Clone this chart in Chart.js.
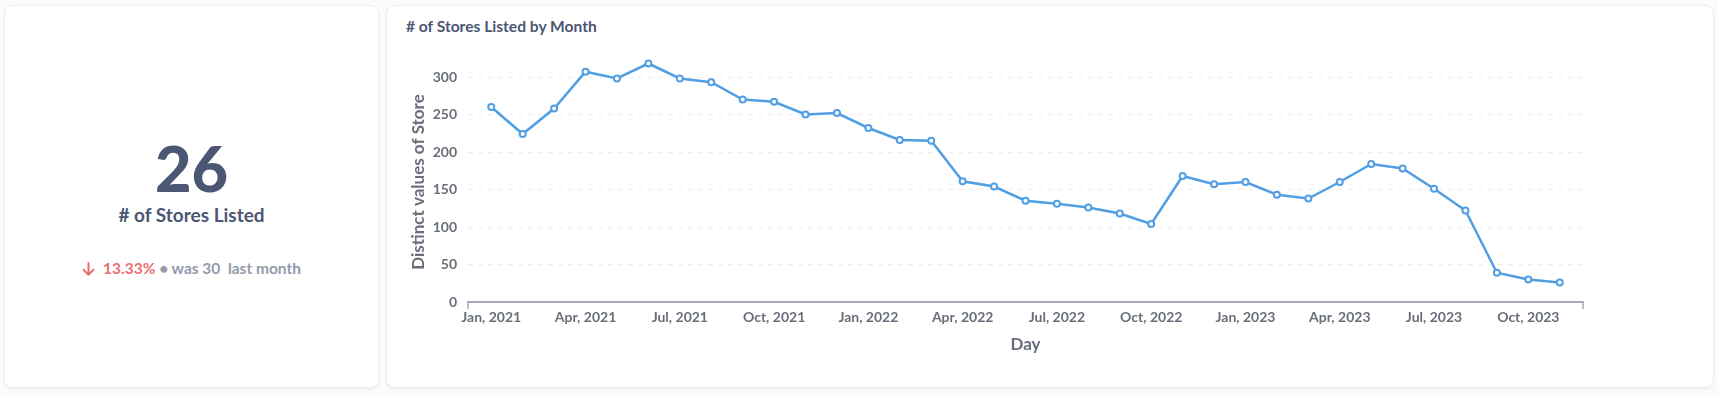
<!DOCTYPE html>
<html>
<head>
<meta charset="utf-8">
<script src="https://cdn.jsdelivr.net/npm/chart.js@4/dist/chart.umd.min.js"></script>
<style>
    html, body { margin: 0; padding: 0; }
    body { width: 1718px; height: 395px; background: #f9fbfc; font-family: Lato, 'Open Sans', sans-serif; position: relative; overflow: hidden; }
    .card { position: absolute; background: #ffffff; border: 1px solid #eceef2; border-radius: 8px; box-shadow: 0 1px 3px rgba(0, 0, 0, 0.06); box-sizing: border-box; }
    #scalarCard { left: 4px; top: 5px; width: 375px; height: 383px; }
    #chartCard { left: 386px; top: 5px; width: 1328px; height: 383px; }
    .scalarValue { position: absolute; left: 0; width: 100%; top: 124px; text-align: center; font-size: 63px; font-weight: 900; color: #4c5773; line-height: 76px; }
    .scalarTitle { position: absolute; left: 0; width: 100%; top: 197px; text-align: center; font-size: 19px; font-weight: 700; color: #4c5773; line-height: 24px; }
    .scalarCompare { position: absolute; left: 0; width: 100%; top: 252px; text-align: center; font-size: 15.5px; font-weight: 700; color: #949aab; line-height: 20px; white-space: nowrap; }
    .scalarCompare svg { vertical-align: -2px; margin-right: 8px; }
    .scalarCompare .down { color: #ed6e6e; }
    .chartTitle { position: absolute; left: 19px; top: 10px; font-size: 15.6px; font-weight: 700; color: #4c5773; line-height: 20px; }
    #myChart { position: absolute; left: 0; top: 0; }
</style>
</head>
<body>
<div class="card" id="scalarCard">
    <div class="scalarValue" id="scalarValue"></div>
    <div class="scalarTitle"># of Stores Listed</div>
    <div class="scalarCompare">
        <svg width="13" height="14" viewBox="0 0 13 14"><path d="M6.5 1 V12.5 M1.5 7.8 L6.5 12.8 L11.5 7.8" fill="none" stroke="#ed6e6e" stroke-width="2" stroke-linecap="round" stroke-linejoin="round"/></svg><span class="down" id="scalarChange"></span> &bull; was <span id="scalarPrevious"></span>&nbsp; last month
    </div>
</div>
<div class="card" id="chartCard">
    <div class="chartTitle"># of Stores Listed by Month</div>
    <canvas id="myChart" width="1327" height="383"></canvas>
</div>
<script>
const months = [
    'Jan, 2021', 'Feb, 2021', 'Mar, 2021', 'Apr, 2021', 'May, 2021', 'Jun, 2021',
    'Jul, 2021', 'Aug, 2021', 'Sep, 2021', 'Oct, 2021', 'Nov, 2021', 'Dec, 2021',
    'Jan, 2022', 'Feb, 2022', 'Mar, 2022', 'Apr, 2022', 'May, 2022', 'Jun, 2022',
    'Jul, 2022', 'Aug, 2022', 'Sep, 2022', 'Oct, 2022', 'Nov, 2022', 'Dec, 2022',
    'Jan, 2023', 'Feb, 2023', 'Mar, 2023', 'Apr, 2023', 'May, 2023', 'Jun, 2023',
    'Jul, 2023', 'Aug, 2023', 'Sep, 2023', 'Oct, 2023', 'Nov, 2023'
];
const storeCounts = [
    260, 224, 258, 307, 298, 318, 298, 293, 270, 267, 250, 252,
    232, 216, 215, 161, 154, 135, 131, 126, 118, 104, 168, 157,
    160, 143, 138, 160, 184, 178, 151, 122, 39, 30, 26
];
const yTicks = [0, 50, 100, 150, 200, 250, 300];

// scalar card: last month vs the one before
const lastValue = storeCounts[storeCounts.length - 1];
const prevValue = storeCounts[storeCounts.length - 2];
document.getElementById('scalarValue').textContent = lastValue;
document.getElementById('scalarPrevious').textContent = prevValue;
document.getElementById('scalarChange').textContent = (Math.abs(lastValue - prevValue) / prevValue * 100).toFixed(2) + '%';

const tickFont = { family: 'Lato', size: 14, weight: 'bold' };
const titleFont = { family: 'Lato', size: 17, weight: 'bold' };

// small tick marks at both ends of the x axis
const axisEndTicks = {
    id: 'axisEndTicks',
    afterDraw(chart) {
        let ctx = chart.ctx;
        let area = chart.chartArea;
        ctx.save();
        ctx.strokeStyle = '#a6abb8';
        ctx.lineWidth = 1.5;
        [area.left, area.right].forEach(function (x) {
            ctx.beginPath();
            ctx.moveTo(x, area.bottom);
            ctx.lineTo(x, area.bottom + 7);
            ctx.stroke();
        });
        ctx.restore();
    }
};

const chart = new Chart(document.getElementById('myChart'), {
    type: 'line',
    data: {
        datasets: [{
            label: 'Distinct values of Store',
            data: storeCounts.map((v, i) => ({ x: i, y: v })),
            borderColor: '#509ee3',
            borderWidth: 2.5,
            pointRadius: 3,
            pointBorderWidth: 2,
            pointBackgroundColor: '#ffffff',
            pointBorderColor: '#509ee3',
            tension: 0,
            clip: false
        }]
    },
    options: {
        responsive: false,
        animation: false,
        layout: { padding: { top: 56, right: 131, left: 0, bottom: 0 } },
        plugins: {
            legend: { display: false },
            tooltip: { enabled: false }
        },
        scales: {
            x: {
                type: 'linear',
                min: -0.74,
                max: months.length - 1 + 0.74,
                afterBuildTicks: (scale) => {
                    scale.ticks = months.map((m, i) => ({ value: i })).filter((t) => t.value % 3 === 0);
                },
                afterFit: (scale) => { scale.height = 87; },
                grid: { display: false, drawTicks: false },
                border: { display: true, color: '#a6abb8', width: 2 },
                ticks: {
                    autoSkip: false,
                    maxRotation: 0,
                    padding: 7,
                    color: '#696e7b',
                    font: tickFont,
                    callback: (value) => months[value]
                },
                title: {
                    display: true,
                    text: 'Day',
                    color: '#696e7b',
                    font: titleFont,
                    padding: { top: 0, bottom: 34 }
                }
            },
            y: {
                min: 0,
                max: 320,
                afterBuildTicks: (scale) => {
                    scale.ticks = yTicks.map((v) => ({ value: v }));
                },
                afterFit: (scale) => { scale.width = 81; },
                grid: {
                    drawTicks: false,
                    color: (c) => c.tick && c.tick.value === 0 ? 'rgba(0,0,0,0)' : '#eceef1',
                    lineWidth: 1
                },
                border: { display: false, dash: [5, 5] },
                ticks: {
                    padding: 11,
                    color: '#696e7b',
                    font: tickFont
                },
                title: {
                    display: true,
                    text: 'Distinct values of Store',
                    color: '#696e7b',
                    font: titleFont,
                    padding: { top: 21, bottom: 0 }
                }
            }
        }
    },
    plugins: [axisEndTicks]
});
</script>
</body>
</html>
